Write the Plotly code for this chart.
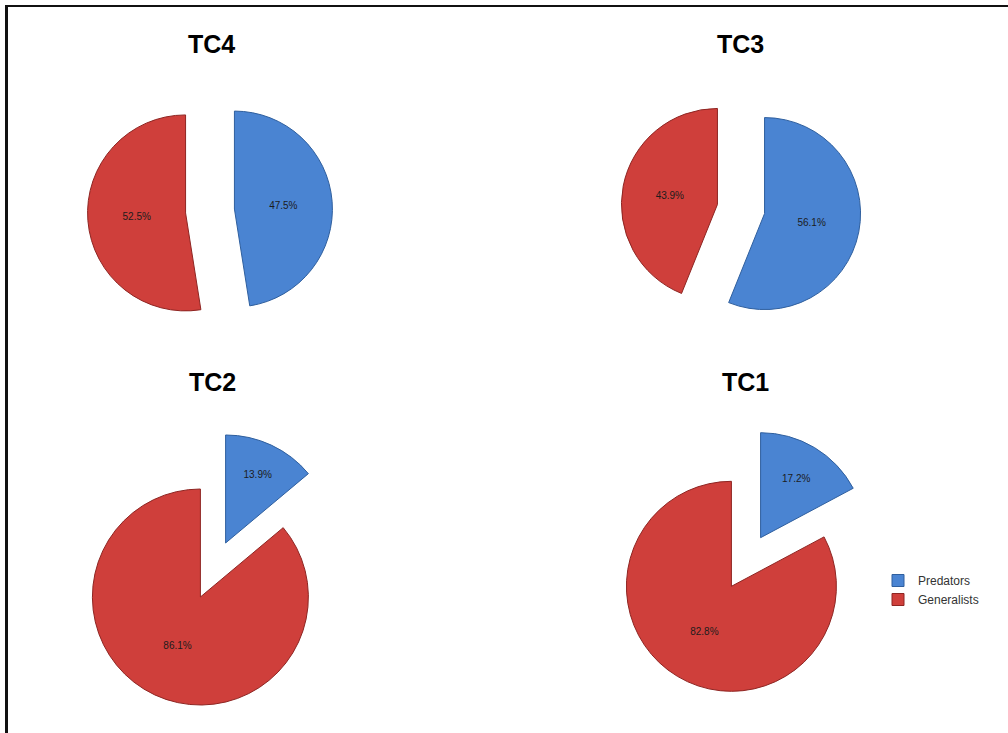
import plotly.graph_objects as go

W, H = 1008, 733

labels = ["Predators", "Generalists"]
titles = ["TC4", "TC3", "TC2", "TC1"]
predators = [47.5, 56.1, 13.9, 17.2]
generalists = [52.5, 43.9, 86.1, 82.8]

colors = ["#4a84d2", "#cf3f3b"]
edge_colors = ["#2f5f9e", "#8e2522"]

# layout geometry (pixels): pie centre, radius, explosion
centres = [(210, 211), (741, 209), (213, 570), (746, 562)]
radii = [98, 96, 108, 105]
pulls = [0.25, 0.25, 0.276, 0.27]
title_pos = [(211, 44), (740, 44), (212, 382), (745, 382)]

fig = go.Figure()
for i, t in enumerate(titles):
    cx, cy = centres[i]
    h = radii[i] * (1 + pulls[i])
    fig.add_trace(go.Pie(
        labels=labels,
        values=[predators[i], generalists[i]],
        name=t,
        sort=False,
        direction="clockwise",
        rotation=0,
        pull=[pulls[i], pulls[i]],
        marker=dict(colors=colors, line=dict(color=edge_colors, width=1)),
        texttemplate="%{percent:.1%}",
        textposition="inside",
        insidetextorientation="horizontal",
        textfont=dict(family="Liberation Sans, Arial", size=10, color="#1c1c1c"),
        hoverinfo="label+percent",
        domain=dict(x=[(cx - h) / W, (cx + h) / W],
                    y=[(H - cy - h) / H, (H - cy + h) / H]),
        showlegend=(i == 0),
    ))
    tx, ty = title_pos[i]
    fig.add_annotation(text="<b>%s</b>" % t, x=tx / W, y=(H - ty) / H,
                       xref="paper", yref="paper", showarrow=False,
                       xanchor="center", yanchor="middle",
                       font=dict(family="Liberation Sans, Arial", size=25, color="#000000"))

# frame lines (top and left)
fig.add_shape(type="line", xref="paper", yref="paper",
              x0=5 / W, x1=1, y0=(H - 6) / H, y1=(H - 6) / H,
              line=dict(color="#111111", width=2))
fig.add_shape(type="line", xref="paper", yref="paper",
              x0=6.5 / W, x1=6.5 / W, y0=0, y1=(H - 5) / H,
              line=dict(color="#111111", width=3))

fig.update_layout(
    width=W, height=H,
    margin=dict(l=0, r=0, t=0, b=0),
    paper_bgcolor="white",
    plot_bgcolor="white",
    legend=dict(x=878 / W, y=(H - 566) / H, xanchor="left", yanchor="top",
                font=dict(family="Liberation Sans, Arial", size=12, color="#333333"),
                bgcolor="rgba(0,0,0,0)", traceorder="normal"),
)

fig.write_html("out.html",
               config={"displayModeBar": False},
               post_script="document.body.style.margin='0';document.body.style.overflow='hidden';")
